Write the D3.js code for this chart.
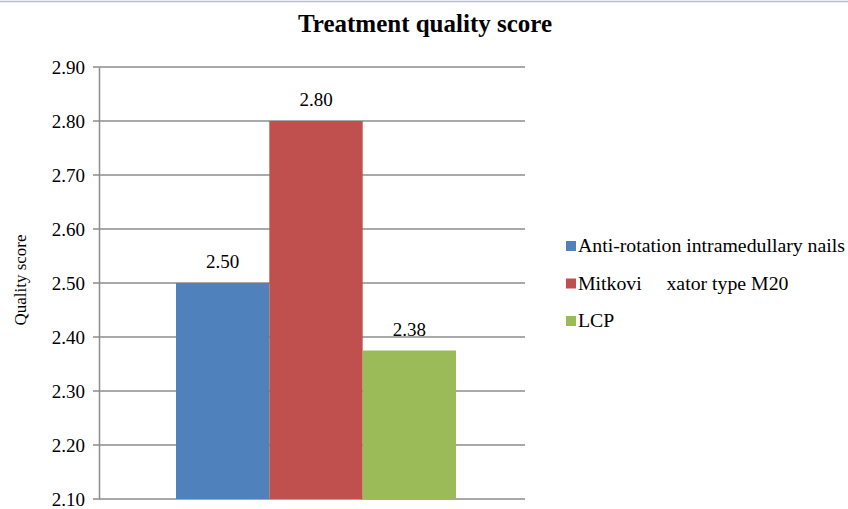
<html lang='en'>

<head>
    <title>
        Treatment quality score
    </title>
    <script src="https://d3js.org/d3.v7.min.js" charset="utf-8"></script>
    <style>
        body { margin: 0; background: #fff; }
        text { font-family: 'Liberation Serif', 'Times New Roman', serif; fill: #000; }
    </style>
</head>

<body>
    <script>
        // data
        var categories = ['Anti-rotation intramedullary nails', 'Mitkovi     xator type M20', 'LCP'];
        var values = [2.50, 2.80, 2.375];
        var valueLabels = ['2.50', '2.80', '2.38'];
        var colors = ['#4f81bd', '#c0504d', '#9bbb59'];
        var yTicks = [2.10, 2.20, 2.30, 2.40, 2.50, 2.60, 2.70, 2.80, 2.90];

        // canvas
        var width = 848, height = 509;

        var svg = d3.select('body')
            .append('svg')
            .attr('width', width)
            .attr('height', height);

        // top border line
        svg.append('line')
            .attr('x1', 0).attr('x2', width)
            .attr('y1', 1.5).attr('y2', 1.5)
            .attr('stroke', '#b8b8e8').attr('stroke-width', 1.5);

        // scales
        var y = d3.scaleLinear().domain([2.10, 2.90]).range([499, 67]);
        var x = d3.scaleBand().domain(categories).range([176, 456]).padding(0);

        // grid lines
        svg.append('g').selectAll('line').data(yTicks).enter()
            .append('line')
            .attr('x1', 93).attr('x2', 525)
            .attr('y1', function (d) { return y(d); })
            .attr('y2', function (d) { return y(d); })
            .attr('stroke', '#8c8c8c').attr('stroke-width', 1.5);

        // y axis
        var yAxis = d3.axisLeft(y).tickValues(yTicks).tickFormat(d3.format('.2f')).tickSize(0).tickPadding(14);
        var ga = svg.append('g').attr('transform', 'translate(99,0)').call(yAxis);
        ga.attr('font-family', null).attr('font-size', null);
        ga.select('.domain').attr('stroke', '#8c8c8c').attr('stroke-width', 1.5);
        ga.selectAll('text').style('font-size', '19px').attr('fill', '#000');

        // bars
        svg.append('g').selectAll('rect').data(values).enter()
            .append('rect')
            .attr('x', function (d, i) { return x(categories[i]); })
            .attr('width', x.bandwidth())
            .attr('y', function (d) { return y(d); })
            .attr('height', function (d) { return y(2.10) - y(d); })
            .attr('fill', function (d, i) { return colors[i]; });

        // value labels
        svg.append('g').selectAll('text').data(values).enter()
            .append('text')
            .attr('x', function (d, i) { return x(categories[i]) + x.bandwidth() / 2; })
            .attr('y', function (d) { return y(d) - 15; })
            .attr('text-anchor', 'middle')
            .style('font-size', '19px')
            .text(function (d, i) { return valueLabels[i]; });

        // title
        svg.append('text')
            .attr('x', 425).attr('y', 32)
            .attr('text-anchor', 'middle')
            .style('font-size', '25px').style('font-weight', 'bold')
            .text('Treatment quality score');

        // y label
        svg.append('text')
            .attr('transform', 'translate(26,280) rotate(-90)')
            .attr('text-anchor', 'middle')
            .style('font-size', '17px')
            .text('Quality score');

        // legend
        var leg = svg.append('g').selectAll('g').data(categories).enter()
            .append('g')
            .attr('transform', function (d, i) { return 'translate(566,' + (246 + i * 37.5) + ')'; });
        leg.append('rect')
            .attr('x', 0).attr('y', -5).attr('width', 10).attr('height', 10)
            .attr('fill', function (d, i) { return colors[i]; });
        leg.append('text')
            .attr('x', 12).attr('y', 6)
            .attr('xml:space', 'preserve')
            .style('white-space', 'pre')
            .style('font-size', '19.8px')
            .text(function (d) { return d; });
    </script>
</body>

</html>
